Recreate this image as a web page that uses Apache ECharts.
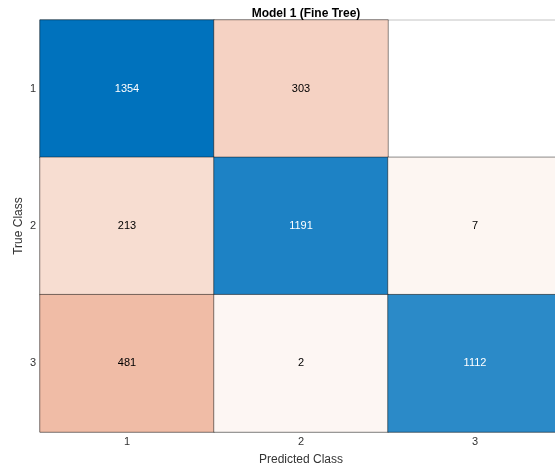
<!DOCTYPE html>
<html>
<head>
<meta charset="utf-8">
<script src="https://cdn.jsdelivr.net/npm/echarts@6/dist/echarts.min.js"></script>
<style>
html,body{margin:0;padding:0;background:#fff;}
#chart{width:555px;height:468px;}
</style>
</head>
<body>
<div id="chart"></div>
<script>
// confusion matrix, rows = true class, cols = predicted class
let classes = ['1', '2', '3']
let row1 = [1354, 303, 0]
let row2 = [213, 1191, 7]
let row3 = [481, 2, 1112]
let matrix = [row1, row2, row3]

let maxVal = Math.max(...row1, ...row2, ...row3)

// matlab style shading: blue on diagonal, red off diagonal
function shade(v, diag) {
    let base = diag ? [0, 114, 189] : [217, 83, 25]
    let t = 0.05 + 0.95 * v / maxVal
    let c = base.map(function (b) { return Math.round(255 * (1 - t) + b * t) })
    return 'rgb(' + c.join(',') + ')'
}

let cells = []
matrix.forEach(function (row, i) {
    row.forEach(function (v, j) {
        if (v === 0) {
            return;
        }
        cells.push({
            value: [j, i, v],
            itemStyle: {color: shade(v, i === j)},
            label: {color: i === j ? '#ffffff' : '#000000'}
        })
    })
})

let myChart = echarts.init(document.getElementById('chart'))
let option = {
    animation: false,
    textStyle: {fontFamily: 'Liberation Sans'},
    title: {
        text: 'Model 1 (Fine Tree)',
        left: 301,
        textAlign: 'center',
        top: 3,
        textStyle: {fontSize: 12, fontWeight: 'bold', color: '#000', fontFamily: 'Liberation Sans'}
    },
    grid: {
        left: 40,
        top: 20,
        width: 522,
        height: 412,
        outerBoundsMode: 'none',
        containLabel: false,
        show: true,
        borderColor: '#c4c4c4',
        borderWidth: 1
    },
    xAxis: {
        type: 'category',
        data: classes,
        name: 'Predicted Class',
        nameLocation: 'middle',
        nameGap: 22,
        nameMoveOverlap: false,
        nameTextStyle: {fontSize: 12, color: '#333'},
        axisLine: {show: false},
        axisTick: {show: false},
        axisLabel: {fontSize: 11, color: '#333', margin: 4},
        splitLine: {show: false}
    },
    yAxis: {
        type: 'category',
        data: classes,
        inverse: true,
        name: 'True Class',
        nameLocation: 'middle',
        nameGap: 15,
        nameMoveOverlap: false,
        nameTextStyle: {fontSize: 12, color: '#333'},
        axisLine: {show: false},
        axisTick: {show: false},
        axisLabel: {fontSize: 11, color: '#333', margin: 4},
        splitLine: {show: false}
    },
    series: [{
        type: 'heatmap',
        data: cells,
        itemStyle: {borderColor: 'rgba(0,0,0,0.45)', borderWidth: 1},
        label: {show: true, fontSize: 11, fontFamily: 'Liberation Sans'},
        emphasis: {disabled: true}
    }]
}
myChart.setOption(option)
</script>
</body>
</html>
